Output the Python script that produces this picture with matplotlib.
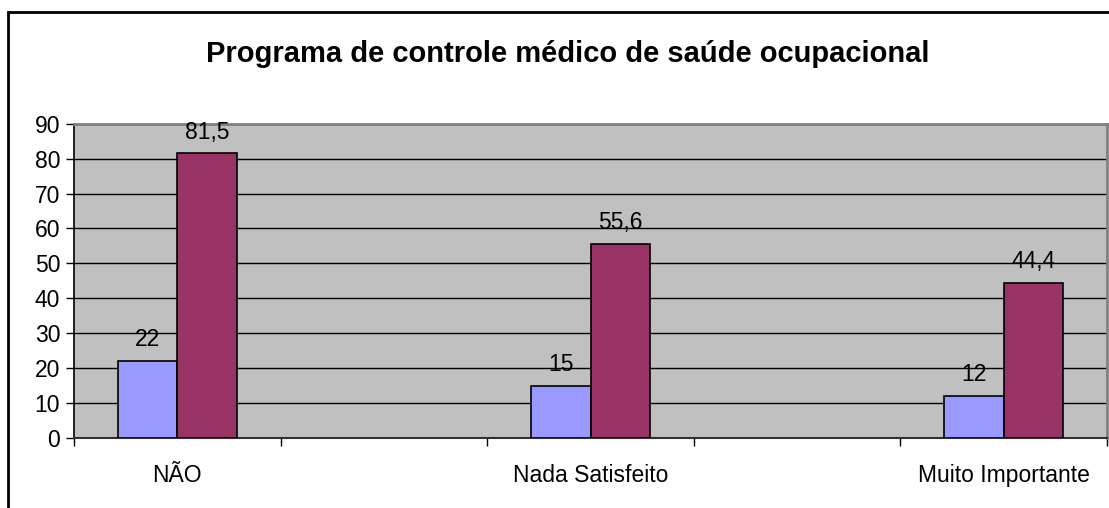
import numpy as np
import matplotlib.pyplot as plt
from matplotlib.patches import Rectangle

plt.rcParams["font.family"] = ["Liberation Sans", "DejaVu Sans"]

categories = ["NÃO", "Nada Satisfeito", "Muito Importante"]
serie_a = [22, 15, 12]
serie_b = [81.5, 55.6, 44.4]
y_ticks = [0, 10, 20, 30, 40, 50, 60, 70, 80, 90]

BLUE = "#9999FF"; WINE = "#993366"; PLOT_BG = "#C0C0C0"; EDGE = "#808080"
FS = 16.5

W, H = 1109, 508
fig = plt.figure(figsize=(W / 100, H / 100), dpi=100)
fig.patch.set_facecolor("white")

# chart frame (clipped on the right/bottom)
fig.patches.append(Rectangle((8 / W, -0.05), 1.1, (H - 12) / H + 0.05,
                             transform=fig.transFigure, fill=False,
                             edgecolor="black", linewidth=2))

ax = fig.add_axes([74 / W, 70 / H, 1033 / W, (438 - 123.7) / H])
ax.set_facecolor(PLOT_BG)

# 5 category slots on the axis, labelled ones sit on every other slot
slots = np.arange(len(categories)) * 2
bw = 0.288
ba = ax.bar(slots - bw / 2, serie_a, bw, color=BLUE, edgecolor="black", linewidth=1.2, zorder=3)
bb = ax.bar(slots + bw / 2, serie_b, bw, color=WINE, edgecolor="black", linewidth=1.2, zorder=3)

for bars, vals in ((ba, serie_a), (bb, serie_b)):
    for b, v in zip(bars, vals):
        txt = f"{v:g}".replace(".", ",")
        ax.annotate(txt, (b.get_x() + b.get_width() / 2, v), xytext=(0, 7),
                    textcoords="offset points", ha="center", va="bottom",
                    fontsize=FS, zorder=4)

ax.set_xlim(-0.5, 4.5)
ax.set_ylim(0, 90)
ax.set_yticks(y_ticks)
ax.tick_params(axis="y", labelsize=FS, length=6, width=1, direction="out", pad=4)
ax.yaxis.grid(True, color="black", linewidth=1, zorder=1)
ax.set_axisbelow(True)

ax.set_xticks(np.arange(-0.5, 5, 1), minor=False)
ax.set_xticklabels([])
ax.tick_params(axis="x", length=6, width=1, direction="out")
ax.set_xticks(slots, minor=True)
ax.set_xticklabels(categories, minor=True)
ax.tick_params(axis="x", which="minor", length=0, labelsize=FS, pad=19)

for s in ("top", "right"):
    ax.spines[s].set_color(EDGE)
    ax.spines[s].set_linewidth(2)
ax.spines["left"].set_color("black")
ax.spines["bottom"].set_color("#303030")
ax.spines["left"].set_linewidth(1.2)
ax.spines["bottom"].set_linewidth(1.5)

fig.text(568 / W, 1 - 54 / H, "Programa de controle médico de saúde ocupacional",
         ha="center", va="center", fontsize=21, fontweight="bold")

fig.savefig("out.png", dpi=100)
